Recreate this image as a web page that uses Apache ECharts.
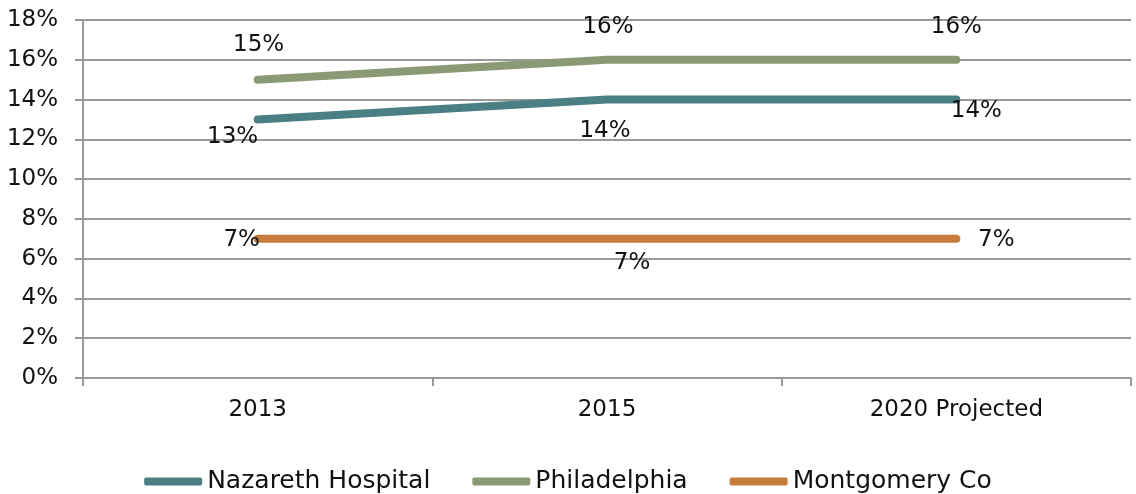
<!DOCTYPE html>
<html>
<head>
<meta charset="utf-8">
<script src="https://cdn.jsdelivr.net/npm/echarts@6/dist/echarts.min.js"></script>
<style>
  html, body { margin: 0; padding: 0; background: #fff; }
  #chart { width: 1136px; height: 494px; }
</style>
</head>
<body>
<div id="chart"></div>
<script>
const categories = ['2013', '2015', '2020 Projected']
const nazarethData = [13, 14, 14]
const philadelphiaData = [15, 16, 16]
const montgomeryData = [7, 7, 7]
const yTicks = { min: 0, max: 18, interval: 2 }

const FONT = '"DejaVu Sans", sans-serif'
const FS = 23
const gridColor = '#999999'

// label offsets per point, relative to the point
function withLabels(values, offsets) {
  return values.map((v, i) => ({
    value: v,
    label: { offset: offsets[i] }
  }))
}

function lineSeries(name, color, data) {
  return {
    name: name,
    type: 'line',
    symbol: 'circle',
    symbolSize: 0,
    itemStyle: { color: color },
    lineStyle: { color: color, width: 8, cap: 'round' },
    label: {
      show: true,
      position: 'inside',
      formatter: '{c}%',
      color: '#111',
      fontSize: FS,
      fontFamily: FONT
    },
    emphasis: { disabled: true },
    data: data
  }
}

const chart = echarts.init(document.getElementById('chart'))
chart.setOption({
  animation: false,
  textStyle: { fontFamily: FONT },
  grid: { left: 83, right: 5, top: 20, bottom: 116 },
  legend: {
    top: 464,
    left: 'center',
    icon: 'roundRect',
    itemWidth: 58,
    itemHeight: 8,
    itemGap: 42,
    textStyle: { fontSize: 25, color: '#111', fontFamily: FONT },
    data: ['Nazareth Hospital', 'Philadelphia', 'Montgomery Co']
  },
  xAxis: {
    type: 'category',
    boundaryGap: true,
    data: categories,
    axisLine: { lineStyle: { color: gridColor, width: 2 } },
    axisTick: { show: true, length: 8, lineStyle: { color: gridColor, width: 2 } },
    axisLabel: { margin: 21, fontSize: FS, color: '#111', fontFamily: FONT }
  },
  yAxis: {
    type: 'value',
    min: yTicks.min,
    max: yTicks.max,
    interval: yTicks.interval,
    axisLine: { show: true, lineStyle: { color: gridColor, width: 2 } },
    axisTick: { show: true, length: 8, lineStyle: { color: gridColor, width: 2 } },
    axisLabel: { formatter: '{value}%', margin: 25, fontSize: FS, color: '#111', fontFamily: FONT },
    splitLine: { lineStyle: { color: gridColor, width: 2 } }
  },
  series: [
    lineSeries('Nazareth Hospital', '#4A7F83', withLabels(nazarethData, [[-25, 18], [-2, 31], [20, 11]])),
    lineSeries('Philadelphia', '#8A9A74', withLabels(philadelphiaData, [[1, -35], [1, -33], [0, -33]])),
    lineSeries('Montgomery Co', '#C67D3B', withLabels(montgomeryData, [[-16, 1], [25, 24], [40, 1]]))
  ]
})
window.onresize = function() {
  chart.resize()
}
</script>
</body>
</html>
